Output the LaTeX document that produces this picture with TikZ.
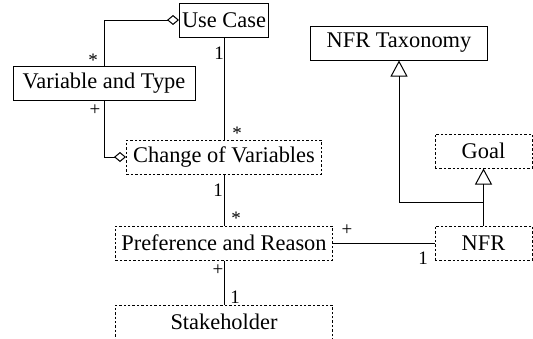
\documentclass[tikz,border=0pt]{standalone}
\usepackage{fontspec}
\setmainfont{LiberationSerif}[Extension=.ttf, UprightFont=*-Regular]
\usetikzlibrary{arrows.meta,shapes,calc}

\begin{document}
\begin{tikzpicture}[x=0.5pt,y=-0.5pt]
            \tikzset{cls/.style = {draw, line width=0.5pt, inner sep=0pt,
                minimum height=17pt, font=\fontsize{11.2}{13}\selectfont}}
            \tikzset{dcls/.style = {cls, dash pattern=on 1.2pt off 1pt}}
            \tikzset{assoc/.style = {line width=0.5pt}}
            \tikzset{aggr/.style = {assoc, {Diamond[open,length=6pt,width=5pt]}-}}
            \tikzset{gen/.style = {assoc, -{Triangle[open,length=8pt,width=8.5pt]}}}
            \tikzset{mult/.style = {inner sep=0pt, font=\fontsize{9.5}{11}\selectfont}}
            \useasboundingbox (0,0) rectangle (533,338);

            % classes
            \node[cls, minimum width=44.5pt] (usecase) at (224,20) {Use Case};
            \node[cls, minimum width=91pt] (vartype) at (104,83) {Variable and Type};
            \node[dcls, minimum width=97.5pt] (change) at (224,157) {Change of Variables};
            \node[dcls, minimum width=108.5pt] (pref) at (224,243) {Preference and Reason};
            \node[dcls, minimum width=108.5pt] (stake) at (224,322) {Stakeholder};
            \node[cls, minimum width=88.5pt] (taxonomy) at (399,43) {NFR Taxonomy};
            \node[dcls, minimum width=48.5pt] (goal) at (483.5,151) {Goal};
            \node[dcls, minimum width=48.5pt] (nfr) at (483.5,243) {NFR};

            % associations
            \draw[aggr] (usecase.west) -| (vartype.north);
            \draw[aggr] (change.west) -| (vartype.south);
            \draw[assoc] (usecase) -- (change);
            \draw[assoc] (change) -- (pref);
            \draw[assoc] (pref) -- (stake);
            \draw[assoc] (pref) -- (nfr);

            % generalisations
            \coordinate (split) at ($(nfr.north)!0.41!(goal.south)$);
            \draw[gen] (nfr.north) -- (goal.south);
            \draw[gen] (split) -| (taxonomy.south);

            % multiplicities
            \node[mult] (m1) at (93,60) {*};
            \node[mult] (m2) at (95,110) {+};
            \node[mult] (m3) at (219,53) {1};
            \node[mult] (m4) at (237,133) {*};
            \node[mult] (m5) at (218,190) {1};
            \node[mult] (m6) at (236,218) {*};
            \node[mult] (m7) at (218,270) {+};
            \node[mult] (m8) at (235,297) {1};
            \node[mult] (m9) at (347,230) {+};
            \node[mult] (m10) at (423,258) {1};
          \end{tikzpicture}
\end{document}
